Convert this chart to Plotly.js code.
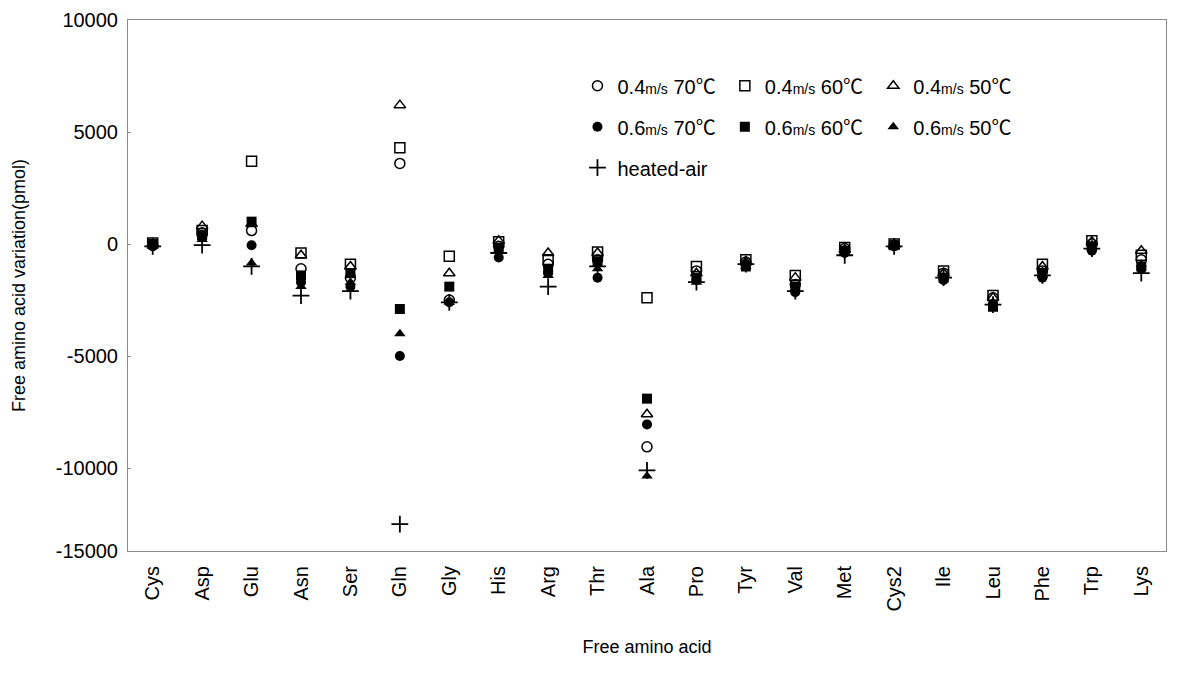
<!DOCTYPE html>
<html><head><meta charset="utf-8">
<script src="https://cdn.plot.ly/plotly-3.0.1.min.js"></script>
<style>body{margin:0;background:#fff}#chart{width:1180px;height:686px}</style>
</head><body><div id="chart"></div>
<script>
var categories = ['Cys','Asp','Glu','Asn','Ser','Gln','Gly','His','Arg','Thr','Ala','Pro','Tyr','Val','Met','Cys2','Ile','Leu','Phe','Trp','Lys'];

var s04_70 = [-50, 500, 600, -1100, -1500, 3600, -2500, -100, -900, -700, -9050, -1200, -800, -1800, -200, -50, -1300, -2400, -1200, 0, -700];
var s04_60 = [50, 600, 3700, -400, -900, 4300, -550, 100, -700, -350, -2400, -1000, -700, -1400, -150, 0, -1200, -2300, -900, 150, -500];
var s04_50 = [0, 800, 900, -500, -1000, 6200, -1300, 150, -400, -400, -7600, -1300, -800, -1500, -250, -50, -1300, -2400, -1000, 100, -300];
var s06_70 = [-100, 300, -50, -1700, -1900, -5000, -2600, -600, -1300, -1500, -8050, -1600, -900, -2150, -400, -100, -1600, -2700, -1500, -300, -1100];
var s06_60 = [0, 400, 1000, -1400, -1300, -2900, -1900, -200, -1100, -800, -6900, -1500, -1000, -1900, -300, -50, -1500, -2800, -1300, -100, -1000];
var s06_50 = [-50, 200, -850, -1900, -1700, -4000, -2600, -300, -1400, -1100, -10350, -1700, -1000, -2000, -350, -100, -1500, -2600, -1400, -200, -900];
var heated = [-100, -50, -1000, -2300, -2100, -12500, -2600, -400, -1900, -1000, -10100, -1700, -900, -2100, -500, -100, -1500, -2700, -1400, -200, -1300];

var yTickVals = [10000, 5000, 0, -5000, -10000, -13700];
var yTickText = ['10000', '5000', '0', '-5000', '-10000', '-15000'];

var FONT = 'Liberation Sans, Arial, Noto Sans CJK KR, DejaVu Sans, sans-serif';

function tr(name, y, symbol, legend, grp, lw, size) {
  return {
    type: 'scatter', mode: 'markers', name: name, x: categories, y: y,
    legend: legend, legendgroup: grp,
    marker: {symbol: symbol, size: size || 10, color: '#000', line: {color: '#000', width: lw}},
    cliponaxis: false
  };
}

var data = [
  tr('0.4<span style="font-size:14px">m/s</span> 70℃', s04_70, 'circle-open', 'legend', 'a', 1.5),
  tr('0.6<span style="font-size:14px">m/s</span> 70℃', s06_70, 'circle', 'legend', 'b', 0),
  tr('heated-air', heated, 'cross-thin-open', 'legend', 'c', 1.8, 12),
  tr('0.4<span style="font-size:14px">m/s</span> 60℃', s04_60, 'square-open', 'legend2', 'd', 1.5),
  tr('0.6<span style="font-size:14px">m/s</span> 60℃', s06_60, 'square', 'legend2', 'e', 0),
  tr('0.4<span style="font-size:14px">m/s</span> 50℃', s04_50, 'triangle-up-open', 'legend3', 'f', 1.5),
  tr('0.6<span style="font-size:14px">m/s</span> 50℃', s06_50, 'triangle-up', 'legend3', 'g', 0)
];

function leg(x) {
  return {x: x, y: 0.913, xanchor: 'left', yanchor: 'top', bgcolor: 'rgba(0,0,0,0)',
    font: {family: FONT, size: 20, color: '#000'}, traceorder: 'grouped', tracegroupgap: 12,
    itemclick: false, itemdoubleclick: false};
}

var layout = {
  width: 1180, height: 686,
  margin: {l: 128, r: 14, t: 20, b: 135},
  paper_bgcolor: '#fff', plot_bgcolor: '#fff',
  font: {family: FONT, color: '#000'},
  showlegend: true,
  legend: leg(0.433),
  legend2: leg(0.575),
  legend3: leg(0.718),
  xaxis: {
    type: 'category', tickangle: -90, range: [-0.5, 20.5],
    tickfont: {family: FONT, size: 20, color: '#000'},
    showline: true, linecolor: '#888', linewidth: 1, mirror: true,
    showgrid: false, zeroline: false, ticks: '', automargin: false, ticklabelstandoff: 6,
    title: {text: 'Free amino acid', font: {family: FONT, size: 18, color: '#000'}, standoff: 29}
  },
  yaxis: {
    range: [-13700, 10000], tickvals: yTickVals, ticktext: yTickText,
    tickfont: {family: FONT, size: 20, color: '#000'},
    showline: true, linecolor: '#888', linewidth: 1, mirror: true,
    showgrid: false, zeroline: false, ticks: 'inside', ticklen: 3, tickcolor: '#888',
    automargin: false, ticklabelstandoff: 5,
    title: {text: 'Free amino acid variation(pmol)', font: {family: FONT, size: 18, color: '#000'}, standoff: 25}
  }
};

Plotly.newPlot('chart', data, layout, {staticPlot: true, displayModeBar: false});
</script>
</body></html>
